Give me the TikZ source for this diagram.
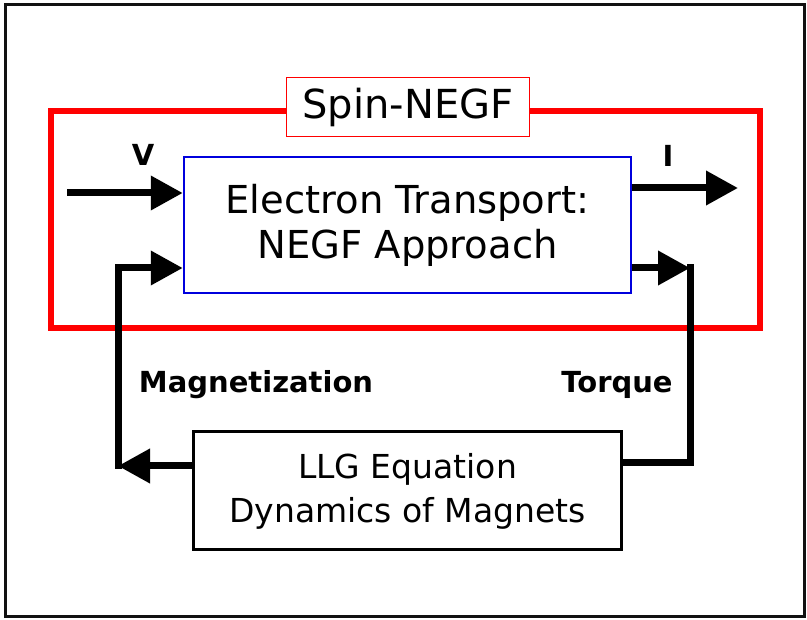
\documentclass[tikz,border=0pt]{standalone}
\usepackage{fontspec}
\setmainfont{DejaVu Sans}
\usetikzlibrary{arrows.meta,positioning}
\definecolor{SpinRed}{HTML}{FF0000}
\definecolor{NegfBlue}{HTML}{0000DD}
\definecolor{Frame}{HTML}{111111}

\begin{document}
\begin{tikzpicture}[
  x=1pt,y=-1pt,
  spinbox/.style={draw=SpinRed,line width=6.5pt,minimum width=709pt,minimum height=217pt},
  titlebox/.style={draw=SpinRed,line width=1pt,fill=white,minimum width=243pt,minimum height=59pt,font=\fontsize{40}{42}\selectfont},
  negfbox/.style={draw=NegfBlue,line width=2.5pt,fill=white,minimum width=447pt,minimum height=136pt,align=center,font=\fontsize{38.5}{45}\selectfont},
  llgbox/.style={draw=black,line width=3pt,fill=white,minimum width=428pt,minimum height=118pt,align=center,font=\fontsize{33}{44}\selectfont},
  lbl/.style={font=\bfseries\fontsize{29}{32}\selectfont},
  wire/.style={line width=7pt},
  arr/.style={wire,-{Triangle[length=32pt,width=33pt]}},
  elbow/.style={line cap=rect}
]
\useasboundingbox (0,0) rectangle (807,620);
\draw[Frame,line width=3pt] (5,5) rectangle (804,616);
\node[spinbox] (spin) at (405.5,219.5) {};
\node[titlebox] (title) at (408,107.5) {Spin-NEGF};
\node[negfbox] (negf) at (407.5,225) {Electron Transport:\\NEGF Approach};
\node[llgbox] (llg) at (407.5,491) {LLG Equation\\Dynamics of Magnets};
\coordinate (vin) at (67,193);
\coordinate (iout) at (738,188);
\coordinate (mb) at (118,466);
\coordinate (mt) at (118,268);
\coordinate (tt) at (690,268);
\coordinate (tb) at (690,463);
\node[lbl] (vl) at (143,155) {V};
\node[lbl] (il) at (668,156) {I};
\node[lbl] (magl) at (256,385) {Magnetization};
\node[lbl] (torl) at (617,385) {Torque};
\draw[arr] (vin) -- (vin -| negf.west); \draw[arr] (iout -| negf.east) -- (iout);
\draw[arr] (mb -| llg.west) -- (mb); \draw[arr,elbow] (mb) |- (mt -| negf.west);
\draw[arr] (tt -| negf.east) -- (tt); \draw[wire,elbow] (tt) |- (tb -| llg.east);
\end{tikzpicture}
\end{document}
